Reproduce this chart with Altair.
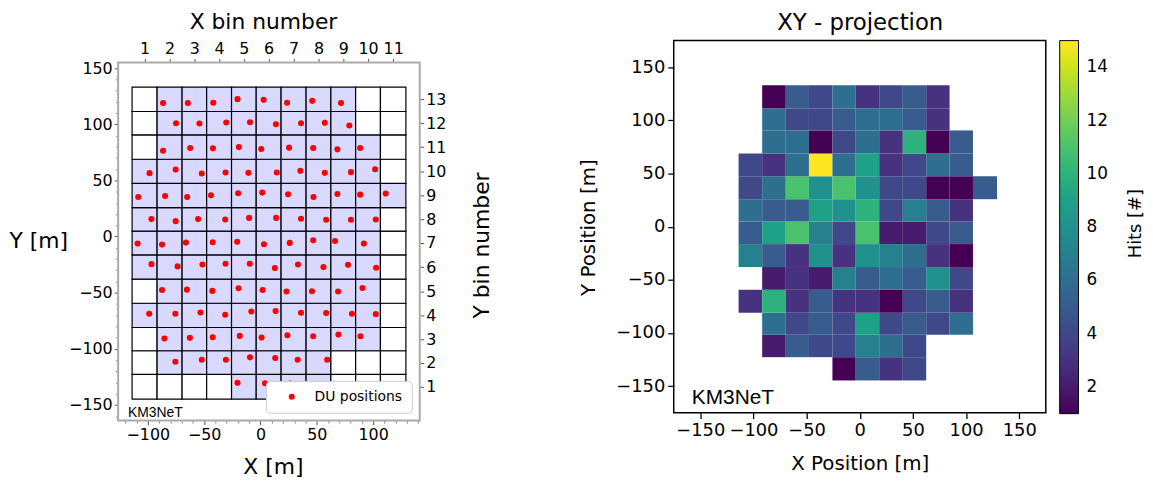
import altair as alt
import pandas as pd

# ---------------- data ----------------
# detector grid bin edges (m)
X_EDGES = [-114.0, -91.8, -69.6, -47.8, -25.7, -3.8, 18.3, 40.5, 62.5, 84.5, 106.5, 129.1]
Y_EDGES = [-144.7, -122.8, -101.7, -81.0, -59.4, -38.0, -16.4, 4.8, 25.8, 47.4, 68.8, 90.5, 111.3, 133.0]

# occupied X bins per Y bin (Y bin 1 .. 13)
ROW_FIRST = [5, 2, 2, 1, 2, 1, 1, 1, 1, 1, 2, 2, 2]
ROW_LAST = [8, 8, 10, 10, 10, 10, 10, 10, 11, 10, 10, 9, 9]

# hits per occupied bin (Y bin 1 .. 13, from first to last occupied X bin)
HITS_Y1 = [1, 5, 3, 4]
HITS_Y2 = [2, 5, 4, 4, 7, 6, 4]
HITS_Y3 = [6, 4, 5, 4, 9, 4, 5, 4, 6]
HITS_Y4 = [3, 10, 3, 5, 3, 3, 1, 4, 5, 3]
HITS_Y5 = [2, 3, 2, 7, 5, 6, 5, 8, 4]
HITS_Y6 = [7, 5, 3, 8, 3, 8, 7, 6, 3, 1]
HITS_Y7 = [5, 9, 11, 7, 4, 11, 2, 2, 4, 5]
HITS_Y8 = [6, 5, 5, 9, 8, 10, 4, 7, 5, 3]
HITS_Y9 = [4, 6, 11, 8, 11, 8, 4, 4, 1, 1, 5]
HITS_Y10 = [4, 3, 6, 15, 6, 9, 3, 4, 6, 5]
HITS_Y11 = [6, 6, 1, 4, 6, 3, 10, 1, 5]
HITS_Y12 = [6, 4, 4, 5, 6, 6, 5, 3]
HITS_Y13 = [1, 5, 4, 6, 3, 4, 5, 3]
HITS = [HITS_Y1, HITS_Y2, HITS_Y3, HITS_Y4, HITS_Y5, HITS_Y6, HITS_Y7,
        HITS_Y8, HITS_Y9, HITS_Y10, HITS_Y11, HITS_Y12, HITS_Y13]

# DU positions (m)
DU_X = [-86.5, -64.5, -41.9, -20.4, 2.8, 23.6, 46.0, 71.5,
        -75.0, -54.2, -30.4, -9.3, 13.7, 36.0, 57.1, 78.9,
        -86.5, -62.4, -42.2, -19.2, 0.7, 25.4, 46.8, 68.3, 88.5,
        -98.5, -75.3, -52.1, -31.0, -10.7, 14.5, 35.4, 57.1, 80.3, 101.8,
        -108.5, -84.7, -65.1, -43.9, -19.8, 1.6, 24.5, 47.1, 68.3, 88.5, 111.2,
        -96.8, -75.3, -55.4, -31.3, -10.1, 13.9, 36.0, 58.3, 80.3, 102.4,
        -109.1, -87.4, -66.2, -42.4, -20.7, 3.1, 26.0, 46.8, 66.2, 91.8,
        -96.8, -73.6, -51.5, -31.0, -9.5, 12.8, 33.3, 55.9, 77.7, 102.7,
        -87.4, -65.3, -42.7, -19.5, 1.9, 23.1, 45.7, 68.9, 90.6,
        -98.8, -75.6, -53.3, -31.3, -8.1, 13.4, 36.0, 58.3, 81.2, 102.4,
        -85.3, -62.7, -42.4, -18.4, 1.0, 23.9, 46.8, 69.2, 88.8,
        -75.6, -52.1, -30.7, -9.3, 13.1, 33.0, 59.2,
        -20.4, 4.0, 26.3]
DU_Y = [118.8, 118.8, 119.1, 122.3, 121.7, 119.1, 120.8, 118.8,
        100.9, 100.6, 101.5, 101.8, 100.0, 100.9, 101.2, 98.9,
        76.4, 78.8, 78.5, 79.6, 77.9, 79.1, 78.8, 77.6, 78.8,
        56.4, 59.6, 56.1, 57.0, 56.7, 57.0, 58.5, 56.7, 57.3, 59.9,
        35.2, 36.1, 35.2, 36.7, 38.5, 39.1, 37.6, 35.2, 37.9, 37.3, 38.2,
        15.5, 13.7, 15.5, 15.2, 16.6, 16.6, 15.8, 14.9, 14.9, 15.2,
        -6.3, -7.2, -5.4, -5.1, -4.6, -6.9, -5.7, -3.4, -4.0, -6.3,
        -24.6, -26.6, -24.9, -24.3, -24.3, -28.1, -24.9, -27.2, -25.2, -27.8,
        -47.6, -47.3, -48.4, -46.1, -47.6, -49.0, -48.7, -49.0, -45.8,
        -68.8, -68.8, -67.6, -69.6, -66.7, -66.4, -67.9, -68.2, -68.8, -69.1,
        -90.8, -90.2, -89.7, -88.5, -90.0, -87.9, -88.8, -87.3, -88.8,
        -111.5, -109.7, -109.7, -107.6, -108.2, -109.7, -109.7,
        -130.3, -130.6, -130.9]

X_TICKS_M = [-100, -50, 0, 50, 100]
Y_TICKS_M = [-150, -100, -50, 0, 50, 100, 150]
X_MINOR_M = [-120, -110, -90, -80, -70, -60, -40, -30, -20, -10, 10, 20, 30, 40,
             60, 70, 80, 90, 110, 120, 130, 140]
Y_MINOR_M = [-160, -140, -130, -120, -110, -90, -80, -70, -60, -40, -30, -20, -10,
             10, 20, 30, 40, 60, 70, 80, 90, 110, 120, 130, 140]
XY_TICKS = [-150, -100, -50, 0, 50, 100, 150]
CBAR_TICKS = [2, 4, 6, 8, 10, 12, 14]
LABEL_LEFT = {"x": -117.6, "y": -160.8, "t": "KM3NeT"}
LABEL_RIGHT = {"x": -158.0, "y": -166.5, "t": "KM3NeT"}

# axis limits of the left panel (m)
LX_LIM = [-126.4, 141.4]
LY_LIM = [-163.9, 155.0]

# ---------------- tables ----------------
recs = []
for r in range(13):
    for c in range(11):
        active = ROW_FIRST[r] <= c + 1 <= ROW_LAST[r]
        recs.append(dict(
            x0=X_EDGES[c], x1=X_EDGES[c + 1], y0=Y_EDGES[r], y1=Y_EDGES[r + 1],
            active=1 if active else 0,
            hits=HITS[r][c + 1 - ROW_FIRST[r]] if active else None))
cells = pd.DataFrame(recs)
heat = cells[cells.active == 1].copy()
du = pd.DataFrame({"x": DU_X, "y": DU_Y, "lab": "DU positions"})
frame = pd.DataFrame([{"x0": LX_LIM[0], "x1": LX_LIM[1], "y0": LY_LIM[0], "y1": LY_LIM[1]}])

XC = [round((X_EDGES[i] + X_EDGES[i + 1]) / 2, 2) for i in range(11)]
YC = [round((Y_EDGES[i] + Y_EDGES[i + 1]) / 2, 2) for i in range(13)]
dx = (X_EDGES[-1] - X_EDGES[0]) / 11
dy = (Y_EDGES[-1] - Y_EDGES[0]) / 13

FONT = "DejaVu Sans"

# ---------------- left panel ----------------
L_W, L_H = 304, 361          # framed area of the left panel (px)
L_TOP_PAD = 22               # the right panel starts this much higher
px_per_m = L_H / (LY_LIM[1] - LY_LIM[0])
LYD = [LY_LIM[0], LY_LIM[1] + L_TOP_PAD / px_per_m]


def lxs():
    return alt.Scale(domain=LX_LIM, nice=False, zero=False)


def lys():
    return alt.Scale(domain=LYD, nice=False, zero=False)


tick_common = dict(tickSize=4, tickColor="#555555", tickWidth=1, domain=False, grid=False,
                   labelFontSize=16, labelColor="black", titleFontSize=22,
                   titleFontWeight="normal", titleColor="black", labelFont=FONT, titleFont=FONT)
minor_common = dict(tickSize=2.5, tickColor="#666666", tickWidth=0.8, domain=False, grid=False,
                    labels=False, title=None)

grid_layer = alt.Chart(cells).mark_rect(stroke="black", strokeWidth=1.2).encode(
    x=alt.X("x0:Q", scale=lxs(), axis=alt.Axis(
        orient="bottom", values=X_TICKS_M, title="X [m]", labelPadding=2,
        titleX=156, titleY=53, titleBaseline="alphabetic", titleAlign="center", **tick_common)),
    x2="x1:Q",
    y=alt.Y("y0:Q", scale=lys(), axis=alt.Axis(
        orient="left", values=Y_TICKS_M, title="Y [m]", labelPadding=2,
        titleAngle=0, titleAlign="right", titleBaseline="middle", titleX=-51,
        titleY=180 + L_TOP_PAD, **tick_common)),
    y2="y1:Q",
    fill=alt.condition("datum.active == 1", alt.value("#d9d9ff"), alt.value("white")),
)

# axes frame, carrying the minor ticks of the metre axes
frame_layer = alt.Chart(frame).mark_rect(
    fill="white", fillOpacity=0, stroke="#aaaaaa", strokeWidth=2
).encode(
    x=alt.X("x0:Q", scale=lxs(), axis=alt.Axis(orient="bottom", values=X_MINOR_M, **minor_common)),
    x2="x1:Q",
    y=alt.Y("y0:Q", scale=lys(), axis=alt.Axis(orient="left", values=Y_MINOR_M, **minor_common)),
    y2="y1:Q",
)

dots = alt.Chart(du).mark_circle(size=38, opacity=1).encode(
    x=alt.X("x:Q", scale=lxs(), axis=None),
    y=alt.Y("y:Q", scale=lys(), axis=None),
    color=alt.Color("lab:N", scale=alt.Scale(domain=["DU positions"], range=["#ff0000"]),
                    legend=alt.Legend(orient="bottom-right", offset=8, title=None,
                                      fillColor="white", strokeColor="#cccccc",
                                      cornerRadius=4, padding=9, labelFontSize=14,
                                      labelFont=FONT, labelColor="black",
                                      symbolType="circle", symbolSize=38,
                                      symbolOffset=10, labelOffset=16,
                                      symbolStrokeWidth=0)),
)

km_left = alt.Chart(pd.DataFrame([LABEL_LEFT])).mark_text(
    align="left", baseline="alphabetic", font="Liberation Sans", fontSize=14, color="black"
).encode(
    x=alt.X("x:Q", scale=lxs(), axis=alt.Axis(
        orient="top", values=XC, title="X bin number", labelPadding=2, offset=-L_TOP_PAD,
        labelExpr=f"round((datum.value - ({X_EDGES[0]})) / {dx:.4f} + 0.5)",
        titleX=146, titleY=-34, titleBaseline="alphabetic", titleAlign="center", **tick_common)),
    y=alt.Y("y:Q", scale=lys(), axis=alt.Axis(
        orient="right", values=YC, title="Y bin number", labelPadding=2,
        labelExpr=f"round((datum.value - ({Y_EDGES[0]})) / {dy:.4f} + 0.5)",
        titleAngle=270, titleX=62, titleY=184 + L_TOP_PAD, titleBaseline="middle",
        titleAlign="center", **tick_common)),
    text="t:N",
)

left = alt.layer(grid_layer, frame_layer, dots, km_left).resolve_scale(
    x="independent", y="independent"
).properties(width=L_W, height=L_H + L_TOP_PAD,
             view=alt.ViewBackground(stroke="transparent"))

# ---------------- right panel ----------------
RD = [-175, 175]

rt_common = dict(tickSize=6, tickColor="black", tickWidth=1.3, domain=False, grid=False,
                 labelFontSize=18, labelColor="black", titleFontSize=20,
                 titleFontWeight="normal", titleColor="black", labelFont=FONT, titleFont=FONT)

heat_layer = alt.Chart(heat).mark_rect().encode(
    x=alt.X("x0:Q", scale=alt.Scale(domain=RD, nice=False, zero=False), axis=alt.Axis(
        orient="bottom", values=XY_TICKS, title="X Position [m]", labelPadding=3,
        titleX=187.5, titleY=57, titleBaseline="alphabetic", titleAlign="center", **rt_common)),
    x2="x1:Q",
    y=alt.Y("y0:Q", scale=alt.Scale(domain=RD, nice=False, zero=False), axis=alt.Axis(
        orient="left", values=XY_TICKS, title="Y Position [m]", labelPadding=3,
        titleAngle=270, titleX=-86, titleY=188, titleBaseline="middle", titleAlign="center",
        **rt_common)),
    y2="y1:Q",
    color=alt.Color("hits:Q", scale=alt.Scale(scheme="viridis", domain=[1, 15]),
                    legend=alt.Legend(orient="none", legendX=389, legendY=0,
                                      direction="vertical", title=None,
                                      gradientLength=376, gradientThickness=19,
                                      gradientStrokeColor="black", gradientStrokeWidth=1,
                                      values=CBAR_TICKS, labelFontSize=17, labelFont=FONT,
                                      labelColor="black", labelOffset=8)),
)

km_right = alt.Chart(pd.DataFrame([LABEL_RIGHT])).mark_text(
    align="left", baseline="alphabetic", font="Liberation Sans", fontSize=21, color="black"
).encode(
    x=alt.X("x:Q", scale=alt.Scale(domain=RD, nice=False, zero=False), axis=alt.Axis(
        orient="top", title="XY - projection", labels=False, ticks=False, domain=False,
        grid=False, titleFontSize=23, titleFontWeight="normal", titleColor="black",
        titleFont=FONT, titleX=187.5, titleY=-11, titleBaseline="alphabetic",
        titleAlign="center")),
    y=alt.Y("y:Q", scale=alt.Scale(domain=RD, nice=False, zero=False), axis=alt.Axis(
        orient="right", title="Hits [#]", labels=False, ticks=False, domain=False, grid=False,
        titleFontSize=18, titleFontWeight="normal", titleColor="black", titleFont=FONT,
        titleAngle=270, titleX=90, titleY=184, titleBaseline="middle", titleAlign="center")),
    text="t:N",
)

right = alt.layer(heat_layer, km_right).resolve_scale(x="independent", y="independent").properties(
    width=375, height=375,
    view=alt.ViewBackground(stroke="black", strokeWidth=1.5),
)

chart = alt.hconcat(left, right, spacing=85).resolve_scale(color="independent").properties(
    padding={"left": 0, "top": 0, "right": 0, "bottom": 0}
).configure(font=FONT)

chart.save("out.html", embed_options={"renderer": "svg", "actions": False})
